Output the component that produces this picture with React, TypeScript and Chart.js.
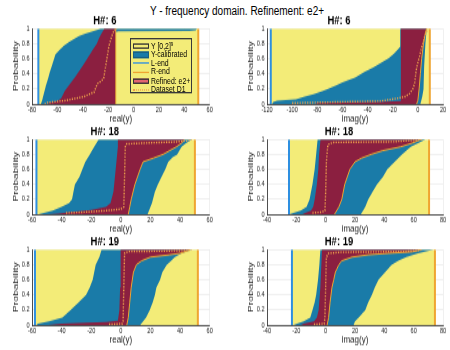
import React, { useEffect, useRef } from 'react';
import { Chart, registerables } from 'chart.js';

Chart.register(...registerables);

type Pt = [number, number]; // [value of y, cumulative probability]

// ---------------- H#: 6, real(y) ----------------
const H6R_YEL: Pt = [-75, 51];
const H6R_CAL_L: Pt[] = [[-73, 0], [-72, 0.05], [-70.5, 0.15], [-69, 0.25], [-67.5, 0.33], [-66, 0.42], [-64.5, 0.5], [-63, 0.58], [-61.5, 0.66], [-58, 0.72], [-55, 0.77], [-51, 0.82], [-47, 0.86], [-43, 0.9], [-38, 0.93], [-33, 0.96], [-28, 0.985], [-26, 1]];
const H6R_CAL_R: Pt[] = [[-14, 0], [-14, 0.955], [-12, 0.962], [44, 0.968], [49, 0.975], [50, 1]];
const H6R_REF_L: Pt[] = [[-68, 0], [-66, 0.02], [-60, 0.04], [-57, 0.08], [-54, 0.18], [-50, 0.27], [-46, 0.36], [-42, 0.46], [-38, 0.56], [-35, 0.64], [-32, 0.72], [-29, 0.8], [-27, 0.88], [-25, 0.94], [-23, 1]];
const H6R_REF_R: Pt[] = [[-14, 0], [-14, 1]];
const H6R_D1: Pt[] = [[-70, 0], [-68, 0.02], [-53, 0.05], [-39, 0.1], [-31, 0.16], [-28.5, 0.27], [-26, 0.3], [-23.5, 0.34], [-22, 0.5], [-21, 0.6], [-19.5, 0.76], [-18, 0.85], [-16.5, 0.93], [-15, 0.98], [-13, 1]];

// ---------------- H#: 6, imag(y) ----------------
const H6I_YEL: Pt = [-117, 9.5];
const H6I_CAL_L: Pt[] = [[-116, 0], [-115, 0.03], [-112, 0.045], [-105, 0.055], [-97, 0.066], [-90, 0.1], [-83, 0.13], [-76, 0.17], [-72, 0.2], [-65, 0.25], [-60, 0.29], [-55, 0.32], [-50, 0.35], [-42, 0.43], [-36, 0.48], [-31, 0.53], [-27, 0.57], [-23, 0.61], [-19, 0.67], [-15.5, 0.73], [-14, 0.76], [-14, 1]];
const H6I_CAL_R: Pt[] = [[2, 0], [3.5, 0.1], [4.5, 0.2], [5, 0.5], [6, 0.8], [7, 1]];
const H6I_REF_L: Pt[] = [[-82, 0], [-80, 0.015], [-60, 0.02], [-30, 0.03], [-14, 0.04], [-13.5, 0.05], [-13.5, 1]];
const H6I_REF_R: Pt[] = [[-1, 0], [0, 0.05], [1, 0.2], [2, 0.4], [3, 0.6], [4.5, 0.8], [5.5, 0.9], [6.5, 0.98], [7, 1]];
const H6I_D1: Pt[] = [[-100, 0.015], [-60, 0.03], [-30, 0.04], [-17, 0.075], [-10, 0.1], [-6.6, 0.14], [-4, 0.2], [-2.6, 0.27], [-1.3, 0.45], [0, 0.55], [1.3, 0.63], [2.5, 0.72], [3.9, 0.8], [5.5, 0.9], [6.6, 0.94], [8, 1]];

// ---------------- H#: 18, real(y) ----------------
const H18R_YEL: Pt = [-57, 50];
const H18R_CAL_L: Pt[] = [[-56, 0], [-52, 0.02], [-46, 0.05], [-40, 0.1], [-35, 0.15], [-33, 0.2], [-32, 0.3], [-31, 0.4], [-28, 0.5], [-26, 0.6], [-24, 0.7], [-21, 0.8], [-18, 0.9], [-16.5, 0.95], [-15, 1]];
const H18R_CAL_R: Pt[] = [[18, 0], [21, 0.15], [23, 0.3], [25, 0.4], [28, 0.52], [30, 0.6], [32, 0.7], [35, 0.76], [38, 0.8], [41, 0.9], [44, 0.95], [48, 1]];
const H18R_REF_L: Pt[] = [[-50, 0], [-42, 0.01], [-35, 0.03], [-20, 0.06], [-10, 0.1], [-7, 0.15], [-5, 0.3], [-4, 0.5], [-3, 0.7], [-2, 0.9], [-2, 1]];
const H18R_REF_R: Pt[] = [[5, 0], [6, 0.1], [7, 0.2], [9.5, 0.4], [13, 0.6], [15, 0.7], [22, 0.75], [28.5, 0.8], [33, 0.85], [37.5, 0.9], [41, 0.95], [43, 1]];
const H18R_D1: Pt[] = [[-37, 0.02], [-25, 0.03], [-10, 0.05], [0, 0.07], [2, 0.1], [2.5, 0.5], [3, 0.9], [4, 0.94], [20, 0.955], [35, 0.965], [44, 0.98], [48, 1]];

// ---------------- H#: 18, imag(y) ----------------
const H18I_YEL: Pt = [-25, 70.5];
const H18I_CAL_L: Pt[] = [[-25, 0], [-22, 0.02], [-17, 0.05], [-13, 0.1], [-11, 0.2], [-9, 0.4], [-7.5, 0.6], [-6.5, 0.8], [-5.5, 1]];
const H18I_CAL_R: Pt[] = [[24, 0], [25.5, 0.05], [27, 0.1], [29, 0.2], [32, 0.3], [35, 0.4], [39, 0.5], [42, 0.6], [47, 0.7], [52, 0.8], [58, 0.9], [63, 0.95], [68, 1]];
const H18I_REF_L: Pt[] = [[-16, 0], [-14, 0.02], [-10, 0.05], [-8.5, 0.1], [-7.5, 0.2], [-6, 0.4], [-5, 0.6], [-4.5, 0.8], [-3.5, 1]];
const H18I_REF_R: Pt[] = [[6, 0], [9, 0.1], [11, 0.2], [13, 0.4], [16.5, 0.6], [20, 0.7], [24.5, 0.75], [31, 0.8], [39, 0.85], [51, 0.9], [59, 0.95], [65, 1]];
const H18I_D1: Pt[] = [[-9, 0.02], [-3, 0.03], [-0.5, 0.05], [0, 0.3], [0.5, 0.7], [1.5, 0.93], [5, 0.96], [47, 0.97], [60, 0.99], [66, 1]];

// ---------------- H#: 19, real(y) ----------------
const H19R_YEL: Pt = [-58, 52];
const H19R_CAL_L: Pt[] = [[-57, 0], [-56, 0.02], [-48.5, 0.05], [-39.5, 0.1], [-34, 0.2], [-28.5, 0.3], [-23.5, 0.4], [-21, 0.5], [-19, 0.6], [-18, 0.7], [-17, 0.8], [-14.5, 0.9], [-13, 1]];
const H19R_CAL_R: Pt[] = [[13, 0], [17, 0.1], [19.5, 0.2], [21.5, 0.3], [23, 0.4], [24, 0.5], [26.5, 0.6], [28, 0.7], [31, 0.8], [34, 0.85], [36.5, 0.9], [41, 0.95], [48, 1]];
const H19R_REF_L: Pt[] = [[-50, 0], [-40, 0.02], [-10, 0.04], [-2, 0.06], [-1, 0.2], [-0.5, 0.5], [-0.3, 0.8], [0, 1]];
const H19R_REF_R: Pt[] = [[4, 0], [5, 0.1], [6, 0.3], [7, 0.5], [8.5, 0.7], [10.5, 0.8], [14, 0.85], [20, 0.9], [33, 0.93], [40, 0.95], [44.5, 0.98], [47, 1]];
const H19R_D1: Pt[] = [[-8, 0.01], [1, 0.02], [1.5, 0.05], [2, 0.5], [2.5, 0.95], [5, 0.975], [30, 0.98], [45, 0.99], [48, 1]];

// ---------------- H#: 19, imag(y) ----------------
const H19I_YEL: Pt = [-23, 74.5];
const H19I_CAL_L: Pt[] = [[-22, 0], [-19.5, 0.02], [-15, 0.05], [-10.5, 0.1], [-9, 0.2], [-7.5, 0.3], [-6.5, 0.4], [-5.2, 0.6], [-4.3, 0.8], [-3.6, 1]];
const H19I_CAL_R: Pt[] = [[19, 0], [20, 0.05], [22.5, 0.1], [27, 0.2], [29, 0.3], [31.5, 0.4], [33.5, 0.5], [36, 0.6], [40.5, 0.7], [45, 0.8], [49.5, 0.85], [55, 0.9], [63, 0.95], [73.5, 1]];
const H19I_REF_L: Pt[] = [[-17, 0], [-15, 0.02], [-8, 0.05], [-6, 0.1], [-4.8, 0.2], [-3.6, 0.5], [-2.5, 1]];
const H19I_REF_R: Pt[] = [[1, 0], [2, 0.1], [3, 0.3], [4.3, 0.5], [5.5, 0.6], [6.6, 0.7], [9, 0.8], [11, 0.85], [18, 0.9], [29, 0.93], [43, 0.95], [59, 0.97], [63.5, 0.99], [65, 1]];
const H19I_D1: Pt[] = [[-8, 0.01], [-1, 0.02], [-0.5, 0.1], [0, 0.5], [0.5, 0.9], [2, 0.95], [10, 0.965], [35, 0.97], [55, 0.975], [63, 0.99], [66, 1]];

const MAIN_TITLE = 'Y - frequency domain. Refinement: e2+';
const Y_TICKS_STEP = 0.2;
const X_TICKS_STEP = 20;

interface PanelData {
  title: string;
  xLabel: string;
  xRange: [number, number];
  yel: Pt;
  calL: Pt[];
  calR: Pt[];
  refL: Pt[];
  refR: Pt[];
  d1: Pt[];
}

const PANELS: PanelData[] = [
  { title: 'H#: 6', xLabel: 'real(y)', xRange: [-80, 60], yel: H6R_YEL, calL: H6R_CAL_L, calR: H6R_CAL_R, refL: H6R_REF_L, refR: H6R_REF_R, d1: H6R_D1 },
  { title: 'H#: 6', xLabel: 'imag(y)', xRange: [-120, 20], yel: H6I_YEL, calL: H6I_CAL_L, calR: H6I_CAL_R, refL: H6I_REF_L, refR: H6I_REF_R, d1: H6I_D1 },
  { title: 'H#: 18', xLabel: 'real(y)', xRange: [-60, 60], yel: H18R_YEL, calL: H18R_CAL_L, calR: H18R_CAL_R, refL: H18R_REF_L, refR: H18R_REF_R, d1: H18R_D1 },
  { title: 'H#: 18', xLabel: 'imag(y)', xRange: [-40, 80], yel: H18I_YEL, calL: H18I_CAL_L, calR: H18I_CAL_R, refL: H18I_REF_L, refR: H18I_REF_R, d1: H18I_D1 },
  { title: 'H#: 19', xLabel: 'real(y)', xRange: [-60, 60], yel: H19R_YEL, calL: H19R_CAL_L, calR: H19R_CAL_R, refL: H19R_REF_L, refR: H19R_REF_R, d1: H19R_D1 },
  { title: 'H#: 19', xLabel: 'imag(y)', xRange: [-40, 80], yel: H19I_YEL, calL: H19I_CAL_L, calR: H19I_CAL_R, refL: H19I_REF_L, refR: H19I_REF_R, d1: H19I_D1 },
];

// ---------------- layout & style ----------------
// The reference figure is stretched vertically; each canvas is drawn short and scaled up by S.
const S = 1.35;
const CANVAS_H = 85; // internal canvas height (px); shown as CANVAS_H * S
const LAYOUT = [
  { left: 0, top: 12, width: 225, padRight: 15.3 },
  { left: 234.5, top: 12, width: 215.5, padRight: 7 },
  { left: 0, top: 122.5, width: 225, padRight: 15.3 },
  { left: 234.5, top: 122.5, width: 215.5, padRight: 7 },
  { left: 0, top: 233, width: 225, padRight: 15.3 },
  { left: 234.5, top: 233, width: 215.5, padRight: 7 },
];
const FONT = "'Liberation Sans', Arial, Helvetica, sans-serif";
const C = {
  yellow: '#f3ec78',
  blue: '#1a7ba8',
  red: '#8b1f40',
  redLegend: '#e2656f',
  lend: '#2e8fe0',
  rend: '#efa531',
  d1: '#eea24c',
  axis: '#262626',
  grid: '#e6e6e6',
};

const toXY = (c: Pt[]) => c.map(([x, y]) => ({ x, y }));
const band = (l: Pt[], r: Pt[]) => [...toXY(l), ...toXY([...r].reverse())];
const vline = (v: number): Pt[] => [[v, 0], [v, 1]];

function buildConfig(p: PanelData, padRight: number): any {
  const base = { pointRadius: 0, pointHoverRadius: 0, tension: 0 };
  const datasets = [
    { ...base, label: 'Dataset D1', data: toXY(p.d1), borderColor: C.d1, borderWidth: 1.4, borderDash: [1.2, 1.3], fill: false },
    { ...base, label: 'Refined edge', data: toXY(p.refR), borderColor: C.rend, borderWidth: 1, fill: false },
    { ...base, label: 'L-end', data: toXY(vline(p.yel[0])), borderColor: C.lend, borderWidth: 2, fill: false },
    { ...base, label: 'R-end', data: toXY(vline(p.yel[1])), borderColor: C.rend, borderWidth: 2, fill: false },
    { ...base, label: 'Refined: e2+', data: band(p.refL, p.refR), borderWidth: 0, borderColor: 'rgba(0,0,0,0)', backgroundColor: C.red, fill: 'shape' },
    { ...base, label: 'Y-calibrated', data: band(p.calL, p.calR), borderWidth: 0, borderColor: 'rgba(0,0,0,0)', backgroundColor: C.blue, fill: 'shape' },
    { ...base, label: 'Y [0,2]^9', data: band(vline(p.yel[0]), vline(p.yel[1])), borderWidth: 0, borderColor: 'rgba(0,0,0,0)', backgroundColor: C.yellow, fill: 'shape' },
  ];
  const tickFont = { family: FONT, size: 5.6 };
  const titleFont = { family: FONT, size: 8 };
  return {
    type: 'line',
    data: { datasets },
    options: {
      animation: false,
      responsive: false,
      devicePixelRatio: 1,
      events: [],
      layout: { padding: { left: 0, right: padRight, top: 0, bottom: 0 } },
      plugins: {
        legend: { display: false },
        tooltip: { enabled: false },
        title: {
          display: true,
          text: p.title,
          color: '#000',
          font: { family: FONT, size: 9.5, weight: 'bold' },
          padding: { top: 0.5, bottom: 0.3 },
        },
      },
      scales: {
        x: {
          type: 'linear',
          min: p.xRange[0],
          max: p.xRange[1],
          afterFit: (s: any) => { s.height = 16.9; },
          border: { display: true, color: C.axis, width: 0.8 },
          grid: { color: C.grid, lineWidth: 0.6, drawTicks: false },
          ticks: {
            stepSize: X_TICKS_STEP,
            autoSkip: false,
            maxRotation: 0,
            padding: 0.5,
            color: C.axis,
            font: tickFont,
            callback: (v: number) => String(v),
          },
          title: { display: true, text: p.xLabel, color: C.axis, font: titleFont, padding: { top: 0, bottom: 1.9 } },
        },
        y: {
          type: 'linear',
          min: 0,
          max: 1,
          afterFit: (s: any) => { s.width = 32; },
          border: { display: true, color: C.axis, width: 0.8 },
          grid: { color: C.grid, lineWidth: 0.6, drawTicks: false },
          ticks: {
            stepSize: Y_TICKS_STEP,
            padding: 2.5,
            color: C.axis,
            font: tickFont,
            callback: (v: number) => String(Math.round(v * 10) / 10),
          },
          title: { display: true, text: 'Probability', color: C.axis, font: titleFont, padding: { top: 10.5, bottom: 0 } },
        },
      },
    },
  };
}

function Panel({ data, pos }: { data: PanelData; pos: typeof LAYOUT[number] }) {
  const ref = useRef<HTMLCanvasElement>(null);
  useEffect(() => {
    if (!ref.current) return;
    const chart = new Chart(ref.current, buildConfig(data, pos.padRight));
    return () => chart.destroy();
  }, [data, pos]);
  return (
    <canvas
      ref={ref}
      width={pos.width}
      height={CANVAS_H}
      style={{ position: 'absolute', left: pos.left, top: pos.top, width: pos.width, height: CANVAS_H * S }}
    />
  );
}

const LEGEND_ITEMS: { label: React.ReactNode; kind: 'patch' | 'line' | 'dots'; color: string; edge?: string }[] = [
  { label: <span>Y [0,2]<sup style={{ fontSize: 4.5, verticalAlign: 'top', lineHeight: '4px' }}>9</sup></span>, kind: 'patch', color: C.yellow, edge: '#333' },
  { label: 'Y-calibrated', kind: 'patch', color: C.blue, edge: '#1b5f80' },
  { label: 'L-end', kind: 'line', color: C.lend },
  { label: 'R-end', kind: 'line', color: C.rend },
  { label: 'Refined: e2+', kind: 'patch', color: C.redLegend, edge: '#333' },
  { label: 'Dataset D1', kind: 'dots', color: C.d1 },
];

function Legend() {
  const rowH = 8.9 / S;
  return (
    <div style={{ position: 'absolute', left: 130, top: 38, width: 62, height: 56 / S, transform: `scaleY(${S})`, transformOrigin: '0 0', boxSizing: 'border-box', border: '1px solid #3a3a3a', fontFamily: FONT, fontSize: 6.9, color: '#000' }}>
      {LEGEND_ITEMS.map((it, i) => (
        <div key={i} style={{ position: 'absolute', left: 0, top: 1.5 + i * rowH, height: rowH, display: 'flex', alignItems: 'center', whiteSpace: 'nowrap' }}>
          {it.kind === 'patch' ? (
            <div style={{ width: 16, height: 4.5, marginLeft: 2, marginRight: 2, background: it.color, border: `0.7px solid ${it.edge}`, boxSizing: 'border-box' }} />
          ) : (
            <div style={{ width: 16, height: 0, marginLeft: 2, marginRight: 2, borderTop: `${it.kind === 'dots' ? 1.2 : 1.3}px ${it.kind === 'dots' ? 'dotted' : 'solid'} ${it.color}` }} />
          )}
          <span style={{ lineHeight: `${rowH}px` }}>{it.label}</span>
        </div>
      ))}
    </div>
  );
}

export default function App() {
  return (
    <div style={{ position: 'fixed', left: 0, top: 0, width: 450, height: 350, background: '#fff', overflow: 'hidden', fontFamily: FONT }}>
      <div style={{ position: 'absolute', left: 0, top: 4, width: 474, textAlign: 'center', fontSize: 10, lineHeight: '10px', color: '#000', transform: `scaleY(${S})`, transformOrigin: '0 0' }}>
        {MAIN_TITLE}
      </div>
      {PANELS.map((p, i) => (
        <Panel key={i} data={p} pos={LAYOUT[i]} />
      ))}
      <Legend />
    </div>
  );
}
